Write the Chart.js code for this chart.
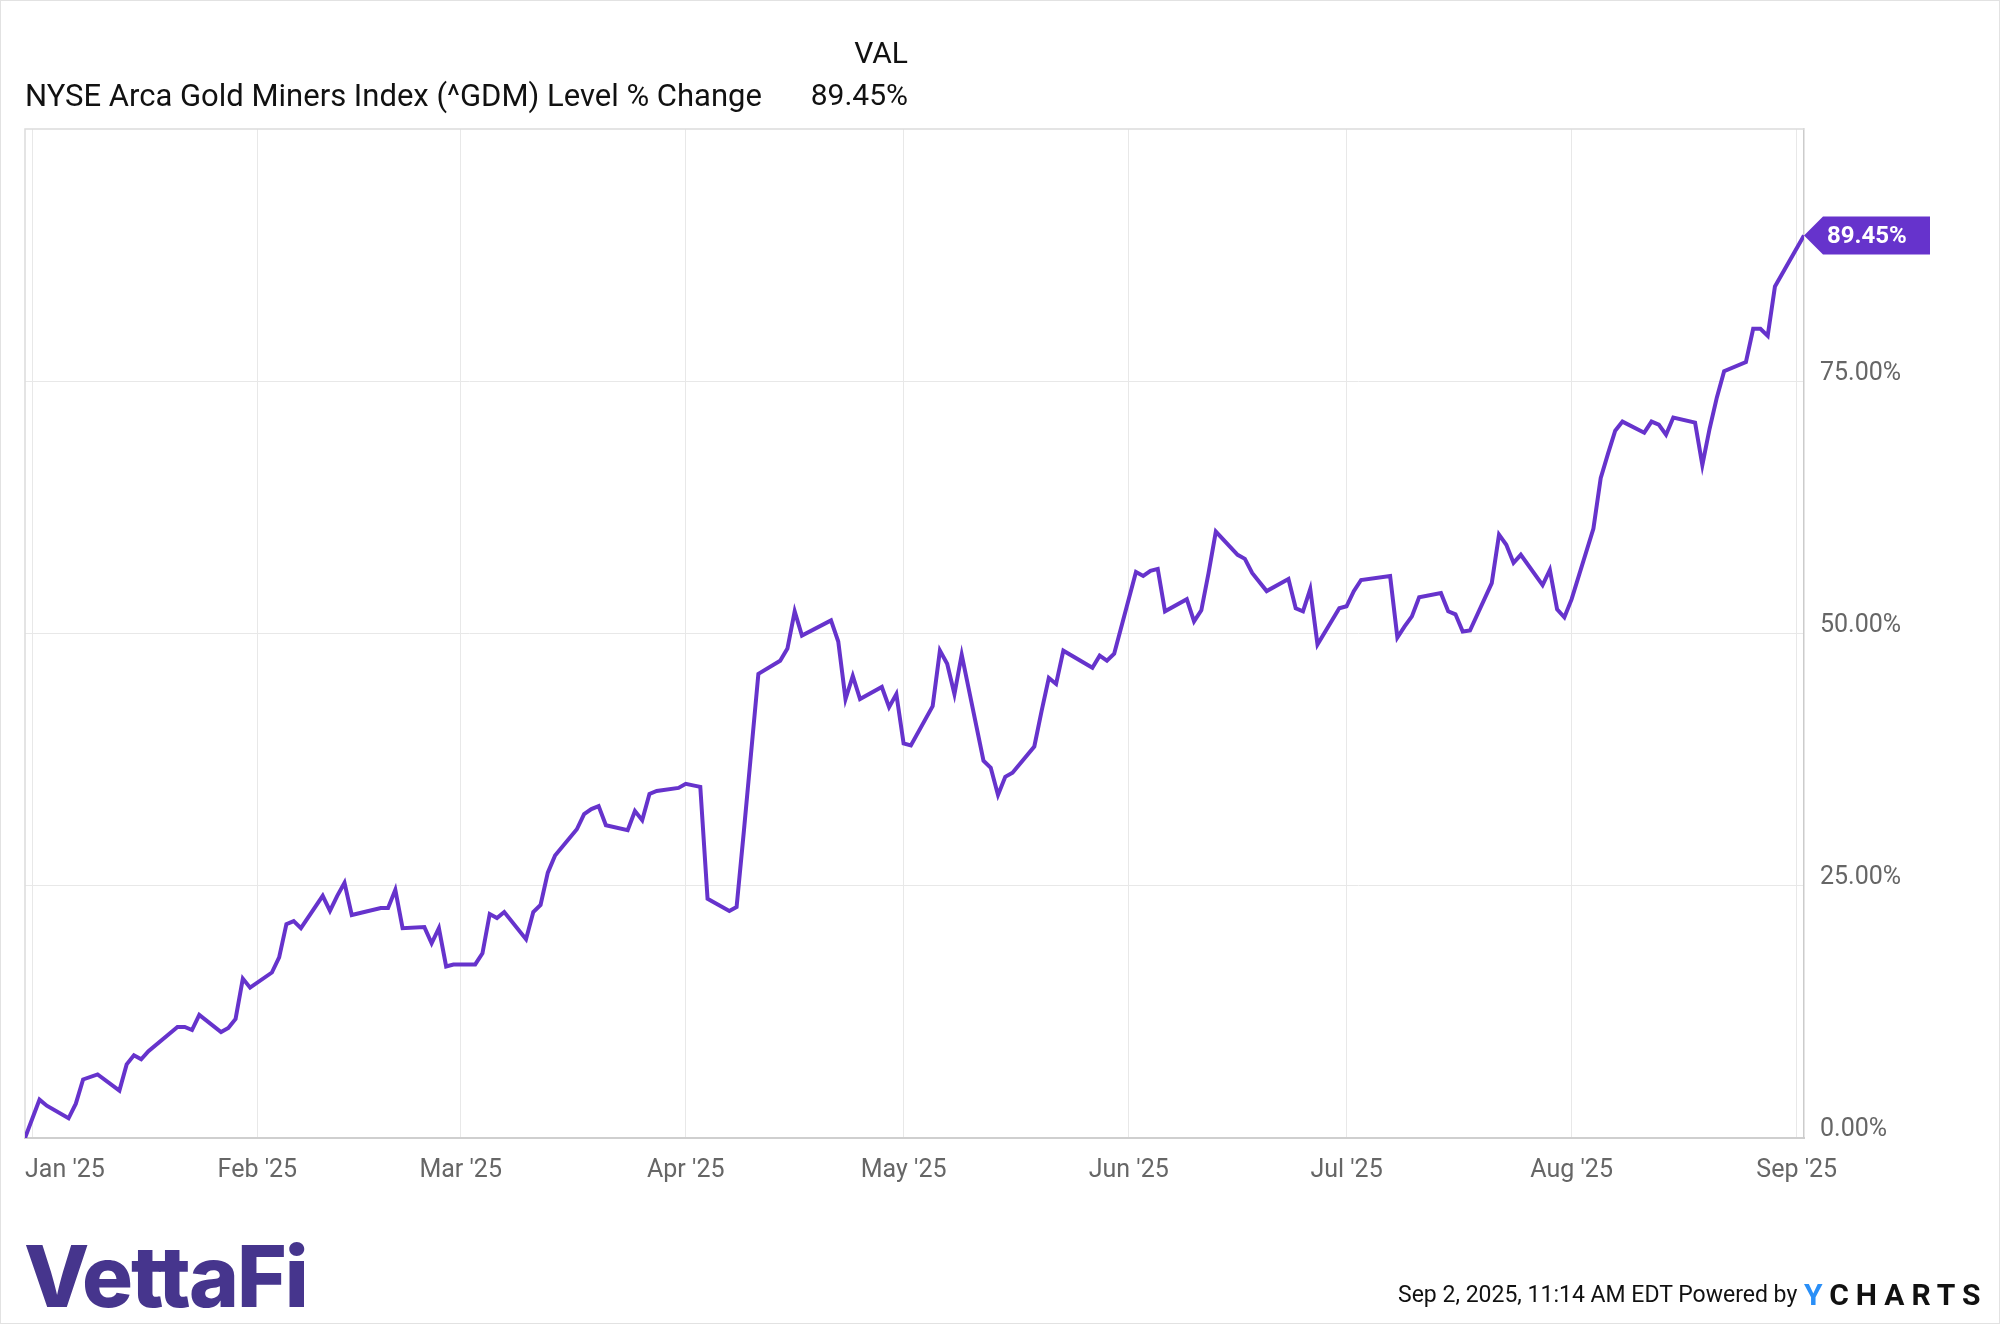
<!DOCTYPE html>
<html>
<head>
<meta charset="utf-8">
<title>NYSE Arca Gold Miners Index (^GDM) Level % Change</title>
<script src="https://cdn.jsdelivr.net/npm/chart.js@4.4.1/dist/chart.umd.min.js"></script>
<style>
  html, body { margin: 0; padding: 0; background: #fff; }
  #wrap { position: relative; width: 2000px; height: 1324px; overflow: hidden; font-family: Roboto, "Noto Sans", sans-serif; }
  #frame { position: absolute; left: 0; top: 0; width: 2000px; height: 1324px; box-sizing: border-box; border: 1px solid #e2e2e2; pointer-events: none; }
  canvas { position: absolute; left: 0; top: 0; }
  .txt { position: absolute; white-space: nowrap; line-height: 1; color: #111; }
</style>
</head>
<body>
<div id="wrap">
  <canvas id="chart" width="2000" height="1324"></canvas>
  <div class="txt" id="val-head" style="right:1092px; top:38px; font-size:30px;">VAL</div>
  <div class="txt" id="title" style="left:25px; top:80px; font-size:31px;">NYSE Arca Gold Miners Index (^GDM) Level % Change</div>
  <div class="txt" id="val-num" style="right:1092px; top:80px; font-size:30px;">89.45%</div>
  <div class="txt" id="logo" style="left:24px; top:1234px; font-size:85px; font-family:Inter, Roboto, sans-serif; font-weight:800; letter-spacing:-2px; color:#46358d;">VettaFi</div>
  <div class="txt" id="stamp" style="left:1398px; top:1283px; font-size:23px;">Sep 2, 2025, 11:14 AM EDT Powered by</div>
  <div class="txt" id="ycharts" style="left:1804px; top:1280px; font-size:30px; font-weight:700; letter-spacing:7px; color:#111;"><span style="color:#2a8ff7;">Y</span>CHARTS</div>
  <div id="frame"></div>
</div>
<script>
// trading days (close) and % change since Dec 31, 2024
const dates = [
  "2024-12-31", "2025-01-02", "2025-01-03", "2025-01-06", "2025-01-07", "2025-01-08", "2025-01-10",
  "2025-01-13", "2025-01-14", "2025-01-15", "2025-01-16", "2025-01-17", "2025-01-21", "2025-01-22",
  "2025-01-23", "2025-01-24", "2025-01-27", "2025-01-28", "2025-01-29", "2025-01-30", "2025-01-31",
  "2025-02-03", "2025-02-04", "2025-02-05", "2025-02-06", "2025-02-07", "2025-02-10", "2025-02-11",
  "2025-02-12", "2025-02-13", "2025-02-14", "2025-02-18", "2025-02-19", "2025-02-20", "2025-02-21",
  "2025-02-24", "2025-02-25", "2025-02-26", "2025-02-27", "2025-02-28", "2025-03-03", "2025-03-04",
  "2025-03-05", "2025-03-06", "2025-03-07", "2025-03-10", "2025-03-11", "2025-03-12", "2025-03-13",
  "2025-03-14", "2025-03-17", "2025-03-18", "2025-03-19", "2025-03-20", "2025-03-21", "2025-03-24",
  "2025-03-25", "2025-03-26", "2025-03-27", "2025-03-28", "2025-03-31", "2025-04-01", "2025-04-02",
  "2025-04-03", "2025-04-04", "2025-04-07", "2025-04-08", "2025-04-09", "2025-04-10", "2025-04-11",
  "2025-04-14", "2025-04-15", "2025-04-16", "2025-04-17", "2025-04-21", "2025-04-22", "2025-04-23",
  "2025-04-24", "2025-04-25", "2025-04-28", "2025-04-29", "2025-04-30", "2025-05-01", "2025-05-02",
  "2025-05-05", "2025-05-06", "2025-05-07", "2025-05-08", "2025-05-09", "2025-05-12", "2025-05-13",
  "2025-05-14", "2025-05-15", "2025-05-16", "2025-05-19", "2025-05-20", "2025-05-21", "2025-05-22",
  "2025-05-23", "2025-05-27", "2025-05-28", "2025-05-29", "2025-05-30", "2025-06-02", "2025-06-03",
  "2025-06-04", "2025-06-05", "2025-06-06", "2025-06-09", "2025-06-10", "2025-06-11", "2025-06-12",
  "2025-06-13", "2025-06-16", "2025-06-17", "2025-06-18", "2025-06-20", "2025-06-23", "2025-06-24",
  "2025-06-25", "2025-06-26", "2025-06-27", "2025-06-30", "2025-07-01", "2025-07-02", "2025-07-03",
  "2025-07-07", "2025-07-08", "2025-07-09", "2025-07-10", "2025-07-11", "2025-07-14", "2025-07-15",
  "2025-07-16", "2025-07-17", "2025-07-18", "2025-07-21", "2025-07-22", "2025-07-23", "2025-07-24",
  "2025-07-25", "2025-07-28", "2025-07-29", "2025-07-30", "2025-07-31", "2025-08-01", "2025-08-04",
  "2025-08-05", "2025-08-06", "2025-08-07", "2025-08-08", "2025-08-11", "2025-08-12", "2025-08-13",
  "2025-08-14", "2025-08-15", "2025-08-18", "2025-08-19", "2025-08-20", "2025-08-21", "2025-08-22",
  "2025-08-25", "2025-08-26", "2025-08-27", "2025-08-28", "2025-08-29", "2025-09-02"
];

const pctChange = [
  0, 3.8, 3.2, 1.95, 3.4, 5.8, 6.3,
  4.7, 7.3, 8.2, 7.8, 8.6, 11.0, 11.0,
  10.7, 12.2, 10.5, 10.9, 11.8, 15.8, 14.9,
  16.4, 17.9, 21.2, 21.5, 20.8, 24.0, 22.5,
  24.0, 25.3, 22.1, 22.8, 22.8, 24.6, 20.8,
  20.9, 19.3, 20.8, 17.0, 17.2, 17.2, 18.3,
  22.2, 21.8, 22.4, 19.7, 22.4, 23.1, 26.3,
  28.0, 30.6, 32.1, 32.6, 32.9, 31.0, 30.5,
  32.4, 31.5, 34.1, 34.4, 34.7, 35.1, 34.95,
  34.8, 23.7, 22.5, 22.9, 30.4, 38.2, 46.0,
  47.3, 48.5, 52.2, 49.8, 51.3, 49.2, 43.5,
  45.8, 43.5, 44.7, 42.7, 44.0, 39.1, 38.9,
  42.8, 48.3, 47.0, 44.0, 47.9, 37.4, 36.7,
  34.0, 35.8, 36.2, 38.8, 42.3, 45.6, 45.0,
  48.3, 46.6, 47.8, 47.3, 48.0, 56.1, 55.7,
  56.2, 56.4, 52.2, 53.4, 51.2, 52.3, 56.0,
  60.1, 57.8, 57.4, 56.0, 54.2, 55.4, 52.5,
  52.2, 54.4, 48.9, 52.5, 52.7, 54.2, 55.3,
  55.7, 49.6, 50.7, 51.7, 53.6, 54.0, 52.2,
  51.9, 50.2, 50.3, 55.0, 59.8, 58.8, 57.0,
  57.8, 54.8, 56.3, 52.4, 51.6, 53.4, 60.4,
  65.4, 67.8, 70.1, 71.0, 69.9, 71.0, 70.7,
  69.7, 71.4, 70.9, 66.7, 70.3, 73.4, 76.0,
  76.9, 80.2, 80.2, 79.5, 84.4, 89.45
];

const monthStarts = ["2025-01-01", "2025-02-01", "2025-03-01", "2025-04-01", "2025-05-01",
  "2025-06-01", "2025-07-01", "2025-08-01", "2025-09-01"];
const monthLabels = ["Jan '25", "Feb '25", "Mar '25", "Apr '25", "May '25",
  "Jun '25", "Jul '25", "Aug '25", "Sep '25"];
const yTicks = [0, 25, 50, 75];

const lineColor = "#6633cc";

// days since the first date, used as x values
const base = Date.parse(dates[0] + "T00:00:00Z");
const dayNo = (s) => (Date.parse(s + "T00:00:00Z") - base) / 86400000;
const points = dates.map((d, i) => ({ x: dayNo(d), y: pctChange[i] }));

// left/top frame of the plot area
const framePlugin = {
  id: "frame",
  beforeDatasetsDraw(chart) {
    const { ctx, chartArea } = chart;
    ctx.save();
    ctx.strokeStyle = "#dcdcdc";
    ctx.lineWidth = 1.5;
    ctx.beginPath();
    ctx.moveTo(chartArea.left, chartArea.bottom);
    ctx.lineTo(chartArea.left, chartArea.top);
    ctx.lineTo(chartArea.right, chartArea.top);
    ctx.stroke();
    ctx.restore();
  },
};

// month labels under the x axis (first one starts at the plot edge)
const monthLabelPlugin = {
  id: "monthLabels",
  afterDraw(chart) {
    const { ctx, chartArea } = chart;
    const xs = chart.scales.x;
    ctx.save();
    ctx.font = "25px Roboto";
    ctx.fillStyle = "#666666";
    ctx.textBaseline = "alphabetic";
    monthStarts.forEach((m, i) => {
      const px = xs.getPixelForValue(dayNo(m));
      if (i === 0) {
        ctx.textAlign = "left";
        ctx.fillText(monthLabels[i], chartArea.left, chartArea.bottom + 39);
      } else {
        ctx.textAlign = "center";
        ctx.fillText(monthLabels[i], px, chartArea.bottom + 39);
      }
    });
    ctx.restore();
  },
};

// purple flag with the last value
const lastValuePlugin = {
  id: "lastValue",
  afterDatasetsDraw(chart) {
    const { ctx } = chart;
    const meta = chart.getDatasetMeta(0);
    const pt = meta.data[meta.data.length - 1];
    const last = pctChange[pctChange.length - 1];
    const x = pt.x, y = pt.y;
    ctx.save();
    ctx.fillStyle = lineColor;
    ctx.beginPath();
    ctx.moveTo(x, y);
    ctx.lineTo(x + 19, y - 19);
    ctx.lineTo(x + 126, y - 19);
    ctx.lineTo(x + 126, y + 19);
    ctx.lineTo(x + 19, y + 19);
    ctx.closePath();
    ctx.fill();
    ctx.fillStyle = "#ffffff";
    ctx.font = "bold 24px Roboto";
    ctx.textAlign = "left";
    ctx.textBaseline = "middle";
    ctx.fillText(last.toFixed(2) + "%", x + 23, y + 2);
    ctx.restore();
  },
};

const ctx = document.getElementById("chart").getContext("2d");
new Chart(ctx, {
  type: "line",
  data: {
    datasets: [
      {
        label: "NYSE Arca Gold Miners Index (^GDM) Level % Change",
        data: points,
        borderColor: lineColor,
        borderWidth: 4,
        pointRadius: 0,
        tension: 0,
        fill: false,
      },
    ],
  },
  options: {
    responsive: false,
    animation: false,
    events: [],
    layout: { padding: { left: 25, top: 129, right: 46, bottom: 126 } },
    plugins: { legend: { display: false }, tooltip: { enabled: false } },
    scales: {
      x: {
        type: "linear",
        min: 0,
        max: dayNo("2025-09-02"),
        afterBuildTicks: (s) => {
          s.ticks = monthStarts.map((m) => ({ value: dayNo(m) }));
        },
        afterFit: (s) => { s.height = 60; },
        ticks: { display: false },
        grid: { color: "#e8e8e8", lineWidth: 1, drawTicks: false },
        border: { display: true, color: "#cfcfcf", width: 2 },
      },
      y: {
        position: "right",
        min: 0,
        max: 100,
        afterBuildTicks: (s) => {
          s.ticks = yTicks.map((v) => ({ value: v }));
        },
        afterFit: (s) => { s.width = 150; },
        ticks: {
          padding: 16,
          labelOffset: -8,
          color: "#666666",
          font: { family: "Roboto", size: 25 },
          callback: (v) => v.toFixed(2) + "%",
        },
        grid: { color: "#e8e8e8", lineWidth: 1, drawTicks: false },
        border: { display: true, color: "#cccccc", width: 1.5 },
      },
    },
  },
  plugins: [framePlugin, monthLabelPlugin, lastValuePlugin],
});
</script>
</body>
</html>
